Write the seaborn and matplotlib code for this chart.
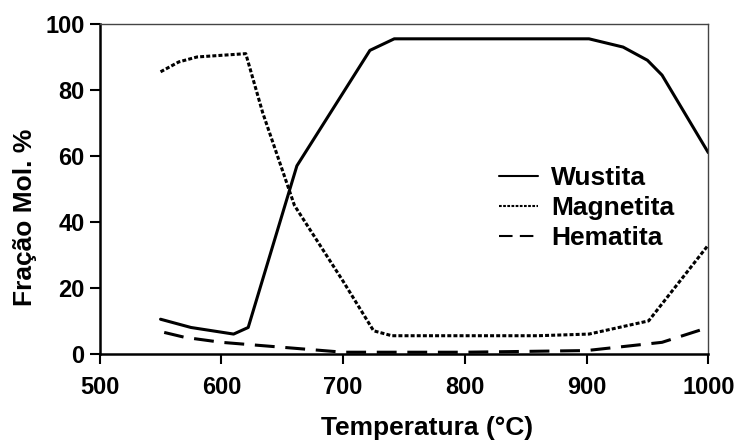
import numpy as np
import pandas as pd
import matplotlib
matplotlib.use("Agg")
import matplotlib.pyplot as plt
import seaborn as sns

# Data
wus_t = [550, 575, 610, 622, 662, 722, 742, 902, 930, 950, 962, 1000]
wus_v = [10.5, 8, 6, 8, 57, 92, 95.5, 95.5, 93, 89, 84.5, 61]
mag_t = [550, 565, 580, 620, 634, 660, 700, 725, 740, 860, 902, 951, 1000]
mag_v = [85.5, 88.5, 90, 91, 73, 45, 22, 7, 5.5, 5.5, 6, 10, 33]
hem_t = [553, 570, 600, 650, 700, 800, 900, 962, 1000]
hem_v = [6.5, 5, 3.5, 2, 0.5, 0.5, 1, 3.5, 8]
names = ["Wustita", "Magnetita", "Hematita"]

df = pd.concat([
    pd.DataFrame({"T": wus_t, "v": wus_v, "s": names[0]}),
    pd.DataFrame({"T": mag_t, "v": mag_v, "s": names[1]}),
    pd.DataFrame({"T": hem_t, "v": hem_v, "s": names[2]}),
])

sns.set_theme(style="white")
plt.rcParams["font.family"] = ["Liberation Sans", "DejaVu Sans"]
for k in ["text.color", "axes.labelcolor", "xtick.color", "ytick.color"]:
    plt.rcParams[k] = "black"

fig = plt.figure(figsize=(7.44, 4.44), dpi=100)
ax = fig.add_axes([0.134, 0.203, 0.818, 0.743])

sns.lineplot(data=df, x="T", y="v", hue="s", style="s",
             palette={n: "black" for n in names},
             dashes={"Wustita": "", "Magnetita": (1.3, 0.7), "Hematita": (6.5, 3.5)},
             linewidth=2.2, ax=ax, sort=False, estimator=None)

ax.set_xlim(500, 1000)
ax.set_ylim(0, 100)
ax.set_xticks([500, 600, 700, 800, 900, 1000])
ax.set_yticks([0, 20, 40, 60, 80, 100])
ax.tick_params(axis="both", which="both", direction="out", length=7, width=1.5,
               color="black", labelsize=17, bottom=True, left=True)
ax.tick_params(axis="x", pad=9)
ax.tick_params(axis="y", pad=4)
for lab in ax.get_xticklabels() + ax.get_yticklabels():
    lab.set_fontweight("bold")

for side in ["left", "bottom"]:
    ax.spines[side].set_color("black")
    ax.spines[side].set_linewidth(1.8)
for side in ["top", "right"]:
    ax.spines[side].set_color("#444444")
    ax.spines[side].set_linewidth(1.0)

ax.set_xlabel("Temperatura (°C)", fontsize=19, fontweight="bold")
ax.set_ylabel("Fração Mol. %", fontsize=19, fontweight="bold")
ax.xaxis.set_label_coords(0.538, -0.224, transform=ax.transAxes)
ax.xaxis.label.set_va("center")
ax.yaxis.set_label_coords(-0.123, 0.415, transform=ax.transAxes)
ax.yaxis.label.set_va("center")

leg = ax.legend(loc="upper left", bbox_to_anchor=(0.638, 0.6), frameon=False,
                fontsize=19, handlelength=1.5, handletextpad=0.5,
                labelspacing=0.22, borderaxespad=0)
for t in leg.get_texts():
    t.set_fontweight("bold")
for h in leg.get_lines():
    h.set_linewidth(1.5)

fig.savefig("out.png", dpi=100)
